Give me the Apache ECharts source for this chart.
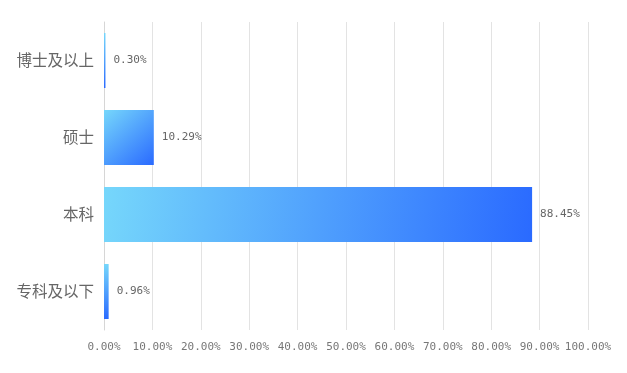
<!DOCTYPE html>
<html><head><meta charset="utf-8">
<script src="https://cdn.jsdelivr.net/npm/echarts@6/dist/echarts.min.js"></script>
<style>html,body{margin:0;padding:0;background:#fff}#c{width:627px;height:373px}</style>
</head><body><div id="c"></div>
<script>
const categories = ['专科及以下', '本科', '硕士', '博士及以上'];
const values = [0.96, 88.45, 10.29, 0.30];
const xTicks = [0, 10, 20, 30, 40, 50, 60, 70, 80, 90, 100];

const chart = echarts.init(document.getElementById('c'));
chart.setOption({
  animation: false,
  grid: { left: 104, right: 39, top: 22, bottom: 43, containLabel: false },
  xAxis: {
    type: 'value', min: 0, max: 100, interval: 10,
    axisLine: { show: false }, axisTick: { show: false },
    splitLine: { show: true, lineStyle: { color: '#e3e3e3', width: 1 } },
    axisLabel: { color: '#777', fontSize: 11, fontFamily: 'DejaVu Sans Mono', margin: 12,
      showMaxLabel: true, showMinLabel: true, hideOverlap: false, interval: 0,
      formatter: v => v.toFixed(2) + '%' }
  },
  yAxis: {
    type: 'category', data: categories,
    axisLine: { show: true, lineStyle: { color: '#d6d6d6' } }, axisTick: { show: false },
    axisLabel: { color: '#666', fontSize: 15.5, margin: 10, fontFamily: 'Noto Sans CJK SC' }
  },
  series: [{
    type: 'bar', data: values, barWidth: 55,
    itemStyle: {
      color: new echarts.graphic.LinearGradient(0, 0, 1, 1, [
        { offset: 0, color: '#76d7fb' }, { offset: 1, color: '#2a6aff' }
      ])
    },
    label: { show: true, position: 'right', distance: 8, color: '#666', fontSize: 11,
      fontFamily: 'DejaVu Sans Mono', formatter: p => p.value.toFixed(2) + '%' }
  }]
});
</script></body></html>
